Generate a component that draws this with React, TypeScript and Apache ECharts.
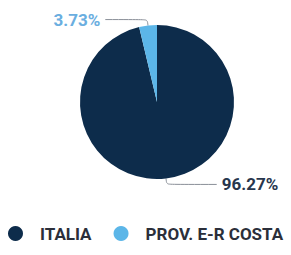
import React, { useEffect, useRef } from "react";
import * as echarts from "echarts";

const categories = ["ITALIA", "PROV. E-R COSTA"];
const values = [96.27, 3.73];
const colors = ["#0d2c4b", "#5cb6e8"];
const labelColors = ["#27364d", "#6aaee0"];
const lineLengths2 = [50, 42];

export default function App() {
  const ref = useRef<HTMLDivElement>(null);
  useEffect(() => {
    const chart = echarts.init(ref.current!, null, { renderer: "svg" });
    chart.setOption({
      animation: false,
      backgroundColor: "#ffffff",
      color: colors,
      legend: {
        bottom: 8,
        left: 3,
        icon: "circle",
        itemWidth: 15,
        itemHeight: 15,
        itemGap: 22,
        textStyle: {
          fontFamily: "Roboto",
          fontWeight: "bold",
          fontSize: 17,
          color: "#2b2f3a",
          padding: [0, 0, 0, 12],
        },
        data: categories,
      },
      series: [
        {
          type: "pie",
          center: [157, 102],
          radius: 77,
          startAngle: 90,
          data: categories.map((c, i) => ({
            name: c,
            value: values[i],
            label: { color: labelColors[i] },
            labelLine: { length2: lineLengths2[i] },
          })),
          label: {
            show: true,
            position: "outside",
            formatter: (p: any) => p.value.toFixed(2) + "%",
            fontFamily: "Roboto",
            fontWeight: "bold",
            fontSize: 17,
          },
          labelLine: {
            show: true,
            length: 6,
            length2: 40,
            smooth: true,
            lineStyle: { color: "#8a8f98", width: 1 },
          },
        },
      ],
    });
    return () => chart.dispose();
  }, []);
  return (
    <div
      ref={ref}
      style={{ position: "fixed", left: 0, top: 0, width: 291, height: 255 }}
    />
  );
}
